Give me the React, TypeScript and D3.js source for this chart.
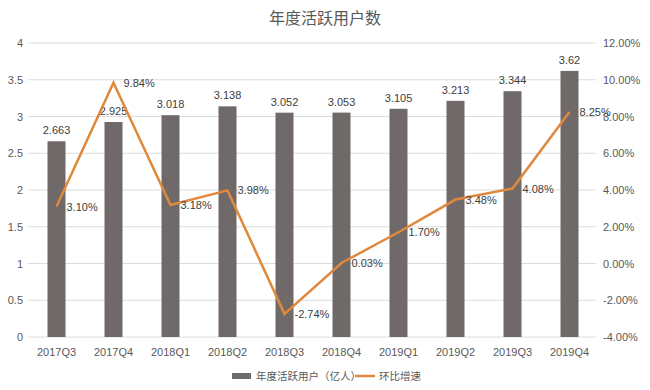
import React, { useEffect, useRef } from "react";
import * as d3 from "d3";

const quarters = ["2017Q3", "2017Q4", "2018Q1", "2018Q2", "2018Q3", "2018Q4", "2019Q1", "2019Q2", "2019Q3", "2019Q4"];
const users = [2.663, 2.925, 3.018, 3.138, 3.052, 3.053, 3.105, 3.213, 3.344, 3.62];
const growth = [3.1, 9.84, 3.18, 3.98, -2.74, 0.03, 1.7, 3.48, 4.08, 8.25];
const leftTicks = [0, 0.5, 1, 1.5, 2, 2.5, 3, 3.5, 4];
const rightTicks = [-4, -2, 0, 2, 4, 6, 8, 10, 12];

const FONT = "'Helvetica Neue', 'Liberation Sans', Arial, sans-serif";
const CJK = "'Noto Sans CJK SC', sans-serif";

const App: React.FC = () => {
  const ref = useRef<SVGSVGElement>(null);

  useEffect(() => {
    if (!ref.current) return;
    const width = 650;
    const height = 390;
    const svg = d3.select(ref.current);
    svg.selectAll("*").remove();

    const x = d3.scaleBand<string>().domain(quarters).range([28, 598]);
    const yL = d3.scaleLinear().domain([0, 4]).range([337, 43]);
    const yR = d3.scaleLinear().domain([-4, 12]).range([337, 43]);

    svg.append("rect").attr("width", width).attr("height", height).attr("fill", "#fff");

    // title
    svg.append("text")
      .attr("x", 325).attr("y", 24)
      .attr("text-anchor", "middle")
      .style("font-family", CJK).style("font-size", "16px")
      .attr("fill", "#595959")
      .text("年度活跃用户数");

    // grid
    svg.append("g").selectAll("line").data(leftTicks).enter().append("line")
      .attr("x1", 28).attr("x2", 596)
      .attr("y1", d => yL(d)).attr("y2", d => yL(d))
      .attr("stroke", "#dcdcdc").attr("stroke-width", 1);

    // left axis labels
    svg.append("g").selectAll("text").data(leftTicks).enter().append("text")
      .attr("x", 23).attr("y", d => yL(d) + 4)
      .attr("text-anchor", "end")
      .style("font-family", FONT).style("font-size", "11px")
      .attr("fill", "#595959")
      .text(d => String(d));

    // right axis labels
    svg.append("g").selectAll("text").data(rightTicks).enter().append("text")
      .attr("x", 603).attr("y", d => yR(d) + 4)
      .style("font-family", FONT).style("font-size", "11px")
      .attr("fill", "#595959")
      .text(d => d.toFixed(2) + "%");

    // x labels
    svg.append("g").selectAll("text").data(quarters).enter().append("text")
      .attr("x", d => x(d)! + x.bandwidth() / 2).attr("y", 356)
      .attr("text-anchor", "middle")
      .style("font-family", FONT).style("font-size", "11px")
      .attr("fill", "#595959")
      .text(d => d);

    const bw = 18;
    // bars
    svg.append("g").selectAll("rect").data(users).enter().append("rect")
      .attr("x", (_, i) => x(quarters[i])! + x.bandwidth() / 2 - bw / 2)
      .attr("y", d => yL(d))
      .attr("width", bw)
      .attr("height", d => yL(0) - yL(d))
      .attr("fill", "#6f6a69");

    // bar labels
    svg.append("g").selectAll("text").data(users).enter().append("text")
      .attr("x", (_, i) => x(quarters[i])! + x.bandwidth() / 2)
      .attr("y", d => yL(d) - 7)
      .attr("text-anchor", "middle")
      .style("font-family", FONT).style("font-size", "11px")
      .attr("fill", "#404040")
      .text(d => String(d));

    // line
    const line = d3.line<number>()
      .x((_, i) => x(quarters[i])! + x.bandwidth() / 2)
      .y(d => yR(d));
    svg.append("path").datum(growth)
      .attr("d", line)
      .attr("fill", "none")
      .attr("stroke", "#e0883c")
      .attr("stroke-width", 2.5)
      .attr("stroke-linejoin", "miter");

    // line labels
    svg.append("g").selectAll("text").data(growth).enter().append("text")
      .attr("x", (_, i) => x(quarters[i])! + x.bandwidth() / 2 + 10)
      .attr("y", d => yR(d) + 4)
      .style("font-family", FONT).style("font-size", "11px")
      .attr("fill", "#404040")
      .text(d => d.toFixed(2) + "%");

    // legend
    const lg = svg.append("g");
    lg.append("rect").attr("x", 232).attr("y", 373).attr("width", 19).attr("height", 6).attr("fill", "#6f6a69");
    lg.append("text").attr("x", 256).attr("y", 380)
      .style("font-family", CJK).style("font-size", "10.5px").attr("fill", "#595959")
      .text("年度活跃用户（亿人）");
    lg.append("line").attr("x1", 355).attr("x2", 375).attr("y1", 376).attr("y2", 376)
      .attr("stroke", "#e0883c").attr("stroke-width", 2.5);
    lg.append("text").attr("x", 379).attr("y", 380)
      .style("font-family", CJK).style("font-size", "10.5px").attr("fill", "#595959")
      .text("环比增速");
  }, []);

  return (
    <svg
      ref={ref}
      width={650}
      height={390}
      style={{ position: "fixed", left: 0, top: 0, display: "block" }}
    />
  );
};

export default App;
